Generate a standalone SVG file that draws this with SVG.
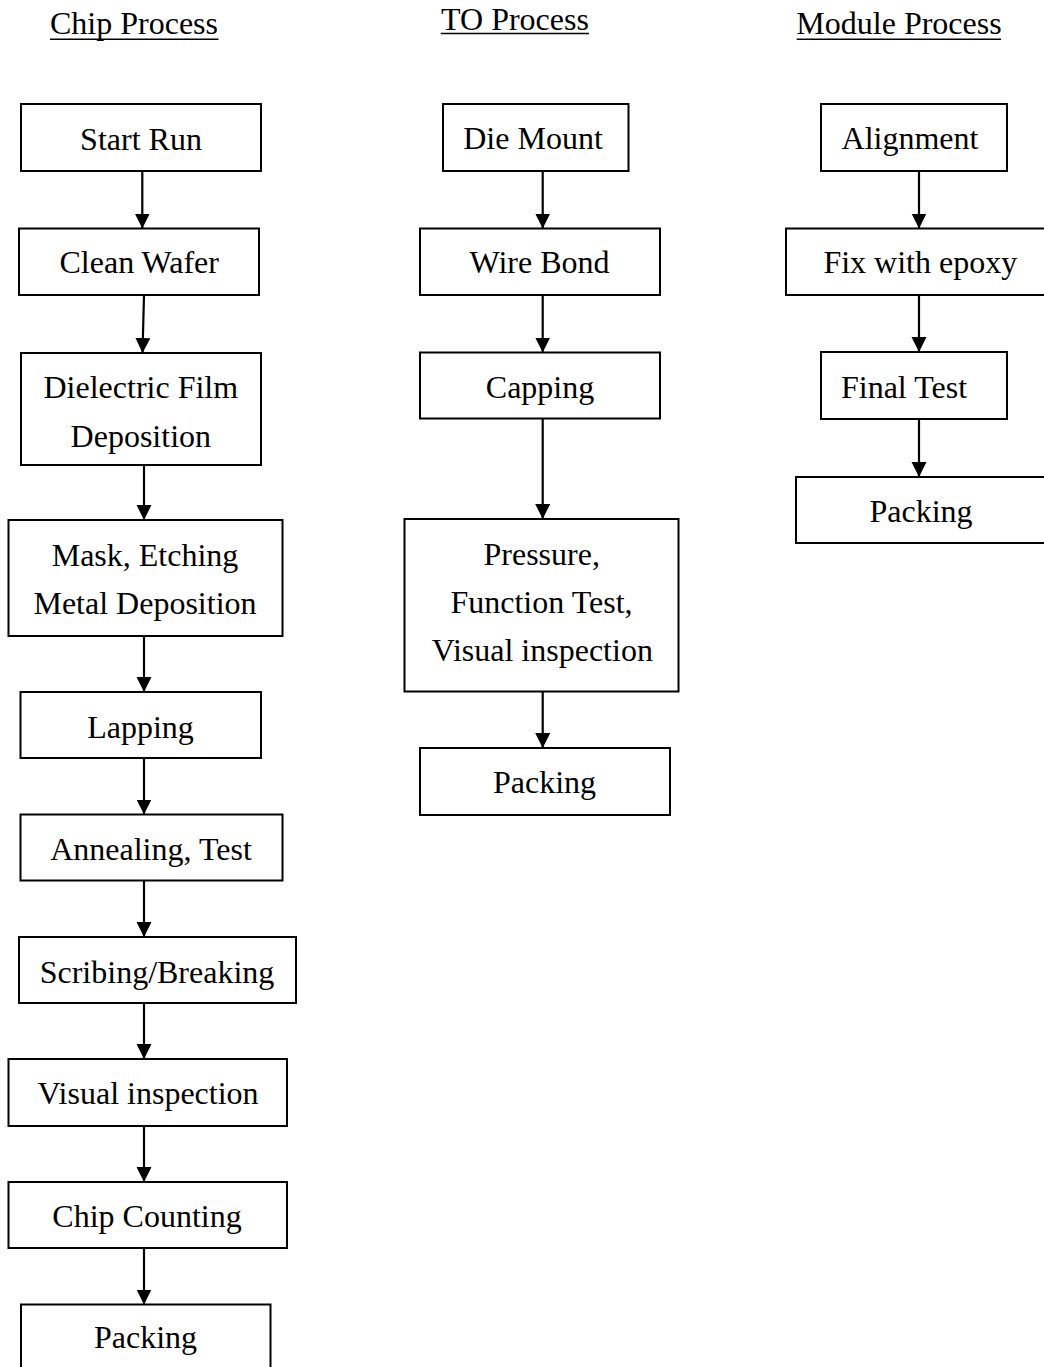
<svg xmlns="http://www.w3.org/2000/svg" width="1044" height="1367" viewBox="0 0 1044 1367">
<style>
  text { font-family: "Liberation Serif", "Times New Roman", serif; font-size: 32px; fill: #000; text-anchor: middle; }
  .box { fill: #fff; stroke: #000; stroke-width: 2; }
  .title-line { stroke: #000; stroke-width: 1.6; }
  .conn { stroke: #000; stroke-width: 2.2; fill: none; marker-end: url(#arrow); }
</style>
<defs>
  <marker id="arrow" markerUnits="userSpaceOnUse" markerWidth="16" markerHeight="16" refX="15" refY="7.5" orient="auto">
    <path d="M0,0 L15,7.5 L0,15 Z" fill="#000"/>
  </marker>
</defs>
<rect width="1044" height="1367" fill="#fff"/>

<g id="titles">
  <text x="134" y="34">Chip Process</text>
  <line class="title-line" x1="50" y1="39.3" x2="218.5" y2="39.3"/>
  <text x="515" y="29.5">TO Process</text>
  <line class="title-line" x1="440.7" y1="33.5" x2="589" y2="33.5"/>
  <text x="899" y="34">Module Process</text>
  <line class="title-line" x1="796.7" y1="39.3" x2="1001" y2="39.3"/>
</g>

<g id="connectors">
  <line class="conn" x1="142.3" y1="171" x2="142.3" y2="228.5"/>
  <line class="conn" x1="144" y1="295" x2="142.5" y2="353"/>
  <line class="conn" x1="144" y1="465" x2="144" y2="520"/>
  <line class="conn" x1="144" y1="636" x2="144" y2="692"/>
  <line class="conn" x1="144" y1="758" x2="144" y2="814.5"/>
  <line class="conn" x1="144" y1="881" x2="144" y2="937"/>
  <line class="conn" x1="144" y1="1003" x2="144" y2="1059"/>
  <line class="conn" x1="144" y1="1126" x2="144" y2="1182"/>
  <line class="conn" x1="144" y1="1248" x2="144" y2="1304.5"/>

  <line class="conn" x1="542.7" y1="171" x2="542.7" y2="228.5"/>
  <line class="conn" x1="542.7" y1="295" x2="542.7" y2="352.5"/>
  <line class="conn" x1="542.7" y1="419" x2="542.7" y2="519"/>
  <line class="conn" x1="542.7" y1="692" x2="542.7" y2="748"/>

  <line class="conn" x1="919" y1="171" x2="919" y2="228.5"/>
  <line class="conn" x1="919" y1="295" x2="919" y2="352"/>
  <line class="conn" x1="919" y1="419" x2="919" y2="477"/>
</g>

<g id="chip-start-run"><rect class="box" x="21" y="104" width="240" height="67"/><text x="141" y="150">Start Run</text></g>
<g id="chip-clean-wafer"><rect class="box" x="19" y="228.5" width="240" height="66.5"/><text x="139.2" y="273">Clean Wafer</text></g>
<g id="chip-dielectric"><rect class="box" x="21" y="353" width="240" height="112"/><text x="140.8" y="398">Dielectric Film</text><text x="140.8" y="447">Deposition</text></g>
<g id="chip-mask"><rect class="box" x="8.5" y="520" width="274" height="116"/><text x="145" y="566">Mask, Etching</text><text x="145" y="614">Metal Deposition</text></g>
<g id="chip-lapping"><rect class="box" x="20.5" y="692" width="240.5" height="66"/><text x="140.5" y="738">Lapping</text></g>
<g id="chip-annealing"><rect class="box" x="20.5" y="814.5" width="262" height="66"/><text x="151" y="860">Annealing, Test</text></g>
<g id="chip-scribing"><rect class="box" x="19" y="937" width="277" height="66"/><text x="157" y="983">Scribing/Breaking</text></g>
<g id="chip-visual"><rect class="box" x="8.5" y="1059" width="278.5" height="67"/><text x="148" y="1104">Visual inspection</text></g>
<g id="chip-counting"><rect class="box" x="8.5" y="1182" width="278.5" height="66"/><text x="147" y="1227">Chip Counting</text></g>
<g id="chip-packing"><rect class="box" x="21" y="1304.5" width="249.5" height="70"/><text x="145.5" y="1348">Packing</text></g>

<g id="to-die-mount"><rect class="box" x="443" y="104" width="185.5" height="67"/><text x="533" y="149">Die Mount</text></g>
<g id="to-wire-bond"><rect class="box" x="420" y="228.5" width="240" height="66.5"/><text x="539.5" y="273">Wire Bond</text></g>
<g id="to-capping"><rect class="box" x="420" y="352.5" width="240" height="66"/><text x="540" y="398">Capping</text></g>
<g id="to-pressure"><rect class="box" x="404.5" y="519" width="274" height="172.5"/><text x="541.7" y="565">Pressure,</text><text x="541.5" y="613">Function Test,</text><text x="542.3" y="661">Visual inspection</text></g>
<g id="to-packing"><rect class="box" x="420" y="748" width="250" height="67"/><text x="544.5" y="793">Packing</text></g>

<g id="mod-alignment"><rect class="box" x="821" y="104" width="186" height="67"/><text x="910" y="149">Alignment</text></g>
<g id="mod-fix"><rect class="box" x="786" y="228.5" width="270" height="66.5"/><text x="920.3" y="273">Fix with epoxy</text></g>
<g id="mod-final-test"><rect class="box" x="821" y="352" width="186" height="67"/><text x="904" y="398">Final Test</text></g>
<g id="mod-packing"><rect class="box" x="796" y="477" width="250" height="66"/><text x="921" y="522">Packing</text></g>
</svg>
